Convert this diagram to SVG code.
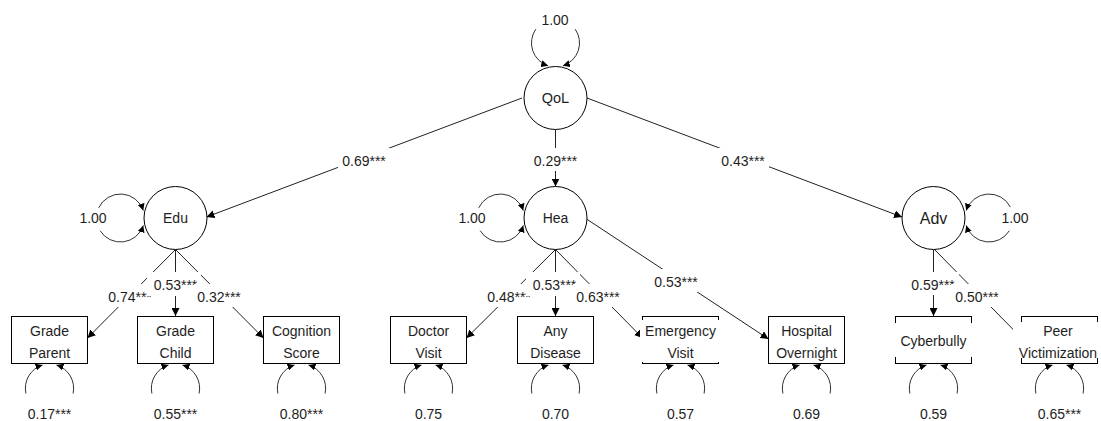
<svg xmlns="http://www.w3.org/2000/svg" width="1101" height="421" viewBox="0 0 1101 421">
<style>
text{font-family:"Liberation Sans",Arial,sans-serif;font-size:14px;fill:#1e1e1e;text-anchor:middle}
.ln{fill:none;stroke:#222;stroke-width:1}
.lp{fill:none;stroke:#333;stroke-width:1}
.nd{fill:#fff;stroke:#000;stroke-width:1}
.bg{fill:#fff;stroke:none}
.big{font-size:16px}
.q{font-size:14.5px}
</style>
<defs>
<marker id="ah" viewBox="0 0 10 10" refX="10" refY="5" markerWidth="8" markerHeight="8" orient="auto" markerUnits="userSpaceOnUse"><path d="M0,0 L10,5 L0,10 z" fill="#000"/></marker>
<marker id="ahs" viewBox="0 0 10 10" refX="10" refY="5" markerWidth="7" markerHeight="7" orient="auto" markerUnits="userSpaceOnUse"><path d="M0,0 L10,5 L0,10 z" fill="#000"/></marker>
</defs>
<rect width="1101" height="421" fill="#fff"/>
<g id="connectors">
<path class="ln" d="M522 98 L206.5 217" marker-end="url(#ah)"/>
<path class="ln" d="M555.5 129.5 L555.5 186.5" marker-end="url(#ah)"/>
<path class="ln" d="M587 98 L902 217" marker-end="url(#ah)"/>
<path class="ln" d="M175.5 249.5 L87.5 338" marker-end="url(#ah)"/>
<path class="ln" d="M175.5 249.5 L175.5 316" marker-end="url(#ah)"/>
<path class="ln" d="M175.5 249.5 L263.5 338" marker-end="url(#ah)"/>
<path class="ln" d="M555.5 249.5 L466.5 338" marker-end="url(#ah)"/>
<path class="ln" d="M555.5 249.5 L555.5 316" marker-end="url(#ah)"/>
<path class="ln" d="M555.5 249.5 L642.5 338" marker-end="url(#ah)"/>
<path class="ln" d="M586.5 219 L768.5 339" marker-end="url(#ah)"/>
<path class="ln" d="M933.5 249.5 L933.5 316" marker-end="url(#ah)"/>
<path class="ln" d="M934.5 249.5 L1021.5 338" marker-end="url(#ah)"/>
<!-- latent variance loops -->
<path class="lp" d="M535.8 29.2 A24 24 0 0 0 548.1 65.8" marker-end="url(#ahs)"/>
<path class="lp" d="M575.2 29.2 A24 24 0 0 1 562.9 65.8" marker-end="url(#ahs)"/>
<path class="lp" d="M98.7 207.9 A24 24 0 0 1 143.3 210.6" marker-end="url(#ahs)"/>
<path class="lp" d="M100.1 230.7 A24 24 0 0 0 143.3 225.4" marker-end="url(#ahs)"/>
<path class="lp" d="M478.7 207.9 A24 24 0 0 1 523.3 210.6" marker-end="url(#ahs)"/>
<path class="lp" d="M480.1 230.7 A24 24 0 0 0 523.3 225.4" marker-end="url(#ahs)"/>
<path class="lp" d="M1010.4 207.1 A24 24 0 0 0 966.2 210.6" marker-end="url(#ahs)"/>
<path class="lp" d="M1009.4 230.7 A24 24 0 0 1 966.2 225.4" marker-end="url(#ahs)"/>
<!-- residual loops -->
<path class="lp" d="M25.9 393.5 A24.5 24.5 0 0 1 42.5 365" marker-end="url(#ahs)"/>
<path class="lp" d="M73.1 393.5 A24.5 24.5 0 0 0 56.5 365" marker-end="url(#ahs)"/>
<path class="lp" d="M151.9 393.5 A24.5 24.5 0 0 1 168.5 365" marker-end="url(#ahs)"/>
<path class="lp" d="M199.1 393.5 A24.5 24.5 0 0 0 182.5 365" marker-end="url(#ahs)"/>
<path class="lp" d="M277.9 393.5 A24.5 24.5 0 0 1 294.5 365" marker-end="url(#ahs)"/>
<path class="lp" d="M325.1 393.5 A24.5 24.5 0 0 0 308.5 365" marker-end="url(#ahs)"/>
<path class="lp" d="M404.9 393.5 A24.5 24.5 0 0 1 421.5 365" marker-end="url(#ahs)"/>
<path class="lp" d="M452.1 393.5 A24.5 24.5 0 0 0 435.5 365" marker-end="url(#ahs)"/>
<path class="lp" d="M531.9 393.5 A24.5 24.5 0 0 1 548.5 365" marker-end="url(#ahs)"/>
<path class="lp" d="M579.1 393.5 A24.5 24.5 0 0 0 562.5 365" marker-end="url(#ahs)"/>
<path class="lp" d="M656.9 393.5 A24.5 24.5 0 0 1 673.5 365" marker-end="url(#ahs)"/>
<path class="lp" d="M704.1 393.5 A24.5 24.5 0 0 0 687.5 365" marker-end="url(#ahs)"/>
<path class="lp" d="M782.9 393.5 A24.5 24.5 0 0 1 799.5 365" marker-end="url(#ahs)"/>
<path class="lp" d="M830.1 393.5 A24.5 24.5 0 0 0 813.5 365" marker-end="url(#ahs)"/>
<path class="lp" d="M909.9 393.5 A24.5 24.5 0 0 1 926.5 365" marker-end="url(#ahs)"/>
<path class="lp" d="M957.1 393.5 A24.5 24.5 0 0 0 940.5 365" marker-end="url(#ahs)"/>
<path class="lp" d="M1035.9 393.5 A24.5 24.5 0 0 1 1052.5 365" marker-end="url(#ahs)"/>
<path class="lp" d="M1083.1 393.5 A24.5 24.5 0 0 0 1066.5 365" marker-end="url(#ahs)"/>
<!-- edge labels -->
<rect class="bg" x="338" y="148" width="52" height="23"/><text x="364" y="166">0.69***</text>
<rect class="bg" x="529.5" y="148" width="52" height="23"/><text x="555.5" y="166">0.29***</text>
<rect class="bg" x="717" y="148" width="52" height="23"/><text x="743" y="166">0.43***</text>
<rect class="bg" x="104" y="284" width="52" height="23"/><text x="130" y="302">0.74***</text>
<rect class="bg" x="147" y="272" width="54" height="24"/><text x="175.5" y="290">0.53***</text>
<rect class="bg" x="194" y="284" width="50" height="23"/><text x="219" y="302">0.32***</text>
<rect class="bg" x="483" y="284" width="52" height="23"/><text x="509" y="302">0.48***</text>
<rect class="bg" x="526" y="272" width="54" height="24"/><text x="554.5" y="290">0.53***</text>
<rect class="bg" x="573" y="284" width="50" height="23"/><text x="598" y="302">0.63***</text>
<rect class="bg" x="650" y="269" width="52" height="23"/><text x="676" y="287">0.53***</text>
<rect class="bg" x="907" y="272" width="52" height="23"/><text x="933" y="290">0.59***</text>
<rect class="bg" x="951" y="284" width="52" height="23"/><text x="977" y="302">0.50***</text>
<!-- variance labels -->
<text x="555" y="25">1.00</text>
<text x="93" y="223">1.00</text>
<text x="472" y="223">1.00</text>
<text x="1015" y="223">1.00</text>
<text x="49.5" y="419">0.17***</text>
<text x="175.5" y="419">0.55***</text>
<text x="301.5" y="419">0.80***</text>
<text x="428.5" y="419">0.75</text>
<text x="555.5" y="419">0.70</text>
<text x="680.5" y="419">0.57</text>
<text x="806.5" y="419">0.69</text>
<text x="933.5" y="419">0.59</text>
<text x="1059.5" y="419">0.65***</text>
</g>
<g id="node-QoL"><circle class="nd" cx="555.5" cy="98" r="31.5"/><text class="q" x="555.5" y="103">QoL</text></g>
<g id="node-Edu"><circle class="nd" cx="175.5" cy="218" r="31.5"/><text x="175.5" y="223">Edu</text></g>
<g id="node-Hea"><circle class="nd" cx="555.5" cy="218" r="31.5"/><text x="555.5" y="223">Hea</text></g>
<g id="node-Adv"><circle class="nd" cx="933.5" cy="218" r="31.5"/><text class="big" x="933.5" y="224">Adv</text></g>
<g id="node-GradeParent"><rect class="nd" x="11.5" y="316.5" width="76" height="47"/><text x="49.5" y="336">Grade</text><text x="49.5" y="358">Parent</text></g>
<g id="node-GradeChild"><rect class="nd" x="137.5" y="316.5" width="76" height="47"/><text x="175.5" y="336">Grade</text><text x="175.5" y="358">Child</text></g>
<g id="node-CognitionScore"><rect class="nd" x="263.5" y="316.5" width="76" height="47"/><text x="301.5" y="336">Cognition</text><text x="301.5" y="358">Score</text></g>
<g id="node-DoctorVisit"><rect class="nd" x="390.5" y="316.5" width="76" height="47"/><text x="428.5" y="336">Doctor</text><text x="428.5" y="358">Visit</text></g>
<g id="node-AnyDisease"><rect class="nd" x="517.5" y="316.5" width="76" height="47"/><text x="555.5" y="336">Any</text><text x="555.5" y="358">Disease</text></g>
<g id="node-EmergencyVisit"><rect class="nd" x="642.5" y="316.5" width="76" height="47"/><rect class="bg" x="640" y="320" width="81" height="42"/><text x="680.5" y="336">Emergency</text><text x="680.5" y="358">Visit</text></g>
<g id="node-HospitalOvernight"><rect class="nd" x="768.5" y="316.5" width="76" height="47"/><text x="806.5" y="336">Hospital</text><text x="806.5" y="358">Overnight</text></g>
<g id="node-Cyberbully"><rect class="nd" x="895.5" y="316.5" width="76" height="47"/><rect class="bg" x="893" y="323" width="81" height="34"/><text x="933.5" y="346">Cyberbully</text></g>
<g id="node-PeerVictimization"><rect class="nd" x="1021.5" y="316.5" width="76" height="47"/><rect class="bg" x="1013" y="322" width="88" height="36"/><text x="1058" y="336">Peer</text><text x="1058" y="358">Victimization</text></g>
</svg>
